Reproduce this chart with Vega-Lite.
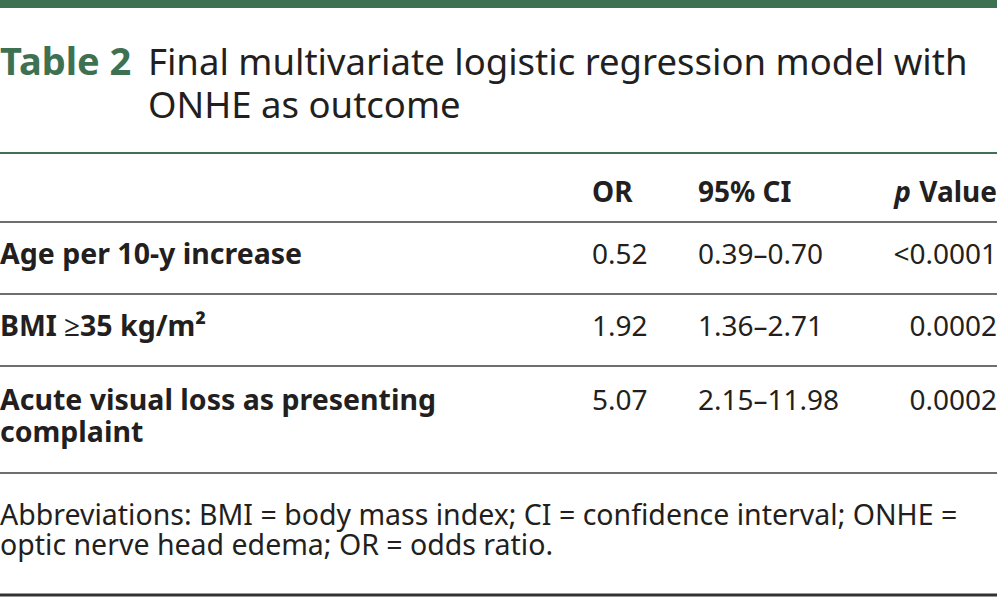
{
  "$schema": "https://vega.github.io/schema/vega-lite/v6.json",
  "width": 997,
  "height": 598,
  "autosize": {"type": "none"},
  "padding": 0,
  "background": "white",
  "config": {"view": {"stroke": null}, "text": {"font": "Noto Sans", "baseline": "alphabetic", "color": "#231f20"}},
  "data": {"values": [
    {"kind": "bar", "row": 0},
    {"kind": "tablelabel", "row": 1, "col": 0, "text": "Table 2"},
    {"kind": "title", "row": 1, "col": 1, "text": "Final multivariate logistic regression model with"},
    {"kind": "title", "row": 2, "col": 1, "text": "ONHE as outcome"},
    {"kind": "rulegreen", "row": 3},
    {"kind": "header", "row": 4, "col": 2, "text": "OR"},
    {"kind": "header", "row": 4, "col": 3, "text": "95% CI"},
    {"kind": "headerright", "row": 4, "col": 4, "text": "Value"},
    {"kind": "headeritalic", "row": 4, "col": 4, "text": "p"},
    {"kind": "rulegray", "row": 5},
    {"kind": "label", "row": 6, "col": 0, "text": "Age per 10-y increase"},
    {"kind": "value", "row": 6, "col": 2, "text": "0.52"},
    {"kind": "value", "row": 6, "col": 3, "text": "0.39–0.70"},
    {"kind": "pvalue", "row": 6, "col": 4, "text": "<0.0001"},
    {"kind": "rulegray", "row": 7},
    {"kind": "label", "row": 8, "col": 0, "text": "BMI ≥35 kg/m²"},
    {"kind": "value", "row": 8, "col": 2, "text": "1.92"},
    {"kind": "value", "row": 8, "col": 3, "text": "1.36–2.71"},
    {"kind": "pvalue", "row": 8, "col": 4, "text": "0.0002"},
    {"kind": "rulegray", "row": 9},
    {"kind": "label", "row": 10, "col": 0, "text": "Acute visual loss as presenting"},
    {"kind": "label", "row": 11, "col": 0, "text": "complaint"},
    {"kind": "value", "row": 10, "col": 2, "text": "5.07"},
    {"kind": "value", "row": 10, "col": 3, "text": "2.15–11.98"},
    {"kind": "pvalue", "row": 10, "col": 4, "text": "0.0002"},
    {"kind": "rulegray", "row": 12},
    {"kind": "note", "row": 13, "col": 0, "text": "Abbreviations: BMI = body mass index; CI = confidence interval; ONHE ="},
    {"kind": "note", "row": 14, "col": 0, "text": "optic nerve head edema; OR = odds ratio."},
    {"kind": "ruledark", "row": 15}
  ]},
  "encoding": {
    "y": {"field": "row", "type": "quantitative", "axis": null,
      "scale": {"domain": [0, 1, 2, 3, 4, 5, 6, 7, 8, 9, 10, 11, 12, 13, 14, 15],
                "range": [4, 75, 118, 153, 202, 222, 264, 294, 336, 366, 410, 442, 473, 525, 555, 595],
                "zero": false, "nice": false}}
  },
  "layer": [
    {"transform": [{"filter": "datum.kind === 'bar'"}], "mark": {"type": "rule", "color": "#3e7151", "strokeWidth": 8}, "encoding": {}},
    {"transform": [{"filter": "datum.kind === 'rulegreen'"}], "mark": {"type": "rule", "color": "#3e7151", "strokeWidth": 2}, "encoding": {}},
    {"transform": [{"filter": "datum.kind === 'rulegray'"}], "mark": {"type": "rule", "color": "#6e6e6e", "strokeWidth": 2}, "encoding": {}},
    {"transform": [{"filter": "datum.kind === 'ruledark'"}], "mark": {"type": "rule", "color": "#333333", "strokeWidth": 3}, "encoding": {}},
    {"transform": [{"filter": "datum.kind === 'tablelabel'"}], "mark": {"type": "text", "align": "left", "fontSize": 38, "fontWeight": "bold", "color": "#3e7151"},
      "encoding": {"x": {"field": "col", "type": "quantitative", "axis": null, "scale": {"domain": [0, 1, 2, 3, 4], "range": [0, 148, 592, 698, 997], "zero": false, "nice": false}}, "text": {"field": "text"}}},
    {"transform": [{"filter": "datum.kind === 'title'"}], "mark": {"type": "text", "align": "left", "fontSize": 36.5},
      "encoding": {"x": {"field": "col", "type": "quantitative"}, "text": {"field": "text"}}},
    {"transform": [{"filter": "datum.kind === 'header'"}], "mark": {"type": "text", "align": "left", "fontSize": 28, "fontWeight": "bold"},
      "encoding": {"x": {"field": "col", "type": "quantitative"}, "text": {"field": "text"}}},
    {"transform": [{"filter": "datum.kind === 'headerright'"}], "mark": {"type": "text", "align": "right", "fontSize": 28, "fontWeight": "bold"},
      "encoding": {"x": {"field": "col", "type": "quantitative"}, "text": {"field": "text"}}},
    {"transform": [{"filter": "datum.kind === 'headeritalic'"}], "mark": {"type": "text", "align": "right", "fontSize": 28, "fontWeight": "bold", "fontStyle": "italic", "dx": -86},
      "encoding": {"x": {"field": "col", "type": "quantitative"}, "text": {"field": "text"}}},
    {"transform": [{"filter": "datum.kind === 'label'"}], "mark": {"type": "text", "align": "left", "fontSize": 28.5, "fontWeight": "bold"},
      "encoding": {"x": {"field": "col", "type": "quantitative"}, "text": {"field": "text"}}},
    {"transform": [{"filter": "datum.kind === 'value'"}], "mark": {"type": "text", "align": "left", "fontSize": 28},
      "encoding": {"x": {"field": "col", "type": "quantitative"}, "text": {"field": "text"}}},
    {"transform": [{"filter": "datum.kind === 'pvalue'"}], "mark": {"type": "text", "align": "right", "fontSize": 28},
      "encoding": {"x": {"field": "col", "type": "quantitative"}, "text": {"field": "text"}}},
    {"transform": [{"filter": "datum.kind === 'note'"}], "mark": {"type": "text", "align": "left", "fontSize": 28.5},
      "encoding": {"x": {"field": "col", "type": "quantitative"}, "text": {"field": "text"}}}
  ]
}
